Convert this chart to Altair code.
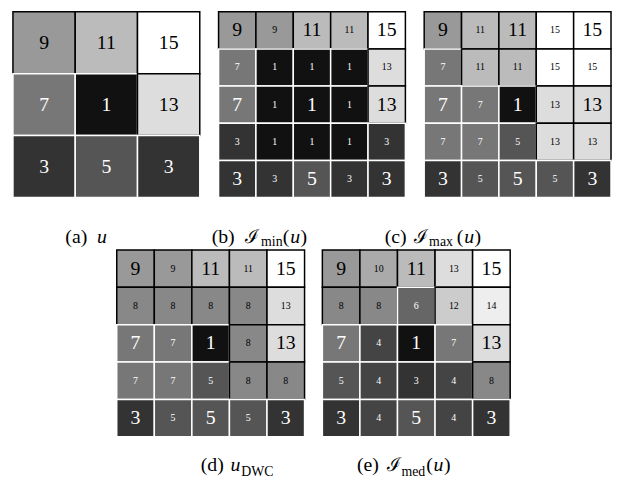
import altair as alt
import pandas as pd

# ---- data ----
u_vals = [[9, 11, 15],
          [7, 1, 13],
          [3, 5, 3]]
imin_vals = [[9, 9, 11, 11, 15],
             [7, 1, 1, 1, 13],
             [7, 1, 1, 1, 13],
             [3, 1, 1, 1, 3],
             [3, 3, 5, 3, 3]]
imax_vals = [[9, 11, 11, 15, 15],
             [7, 11, 11, 15, 15],
             [7, 7, 1, 13, 13],
             [7, 7, 5, 13, 13],
             [3, 5, 5, 5, 3]]
udwc_vals = [[9, 9, 11, 11, 15],
             [8, 8, 8, 8, 13],
             [7, 7, 1, 8, 13],
             [7, 7, 5, 8, 8],
             [3, 5, 5, 5, 3]]
imed_vals = [[9, 10, 11, 13, 15],
             [8, 8, 6, 12, 14],
             [7, 4, 1, 7, 13],
             [5, 4, 3, 4, 8],
             [3, 4, 5, 4, 3]]

label_tags = ["(a)", "(b)", "(c)", "(d)", "(e)"]
label_subs = ["min", "max", "DWC", "med"]

SERIF = "Liberation Serif"
BIG, SMALL = 20, 10


def grid_df(vals, all_big=False):
    recs = []
    for r, row in enumerate(vals):
        for c, v in enumerate(row):
            big = all_big or (r % 2 == 0 and c % 2 == 0)
            recs.append({"row": r, "col": c, "v": v, "fs": BIG if big else SMALL})
    return pd.DataFrame(recs)


def panel(vals, w, h, all_big=False):
    df = grid_df(vals, all_big)
    band = alt.Scale(paddingInner=0, paddingOuter=0)
    base = alt.Chart(df).encode(
        x=alt.X("col:O", axis=None, scale=band),
        y=alt.Y("row:O", axis=None, scale=band),
    )
    rect = base.mark_rect(strokeWidth=1.5).encode(
        fill=alt.Fill("v:Q", legend=None,
                      scale=alt.Scale(domain=[0, 15], range=["#000000", "#ffffff"],
                                      interpolate="rgb")),
        stroke=alt.condition(alt.datum.v >= 8, alt.value("black"), alt.value("white")),
    )
    text = base.mark_text(font=SERIF, baseline="middle", align="center").encode(
        text="v:Q",
        size=alt.Size("fs:Q", scale=None),
        color=alt.condition(alt.datum.v >= 8, alt.value("black"), alt.value("white")),
    )
    return alt.layer(rect, text).properties(width=w, height=h)


dummy = pd.DataFrame({"d": [0]})


def piece(txt, x, y, size=20, italic=False, font=SERIF, align="left"):
    kw = dict(text=txt, align=align, baseline="alphabetic", fontSize=size,
              font=font, color="black")
    if italic:
        kw["fontStyle"] = "italic"
    return alt.Chart(dummy).mark_text(**kw).encode(x=alt.value(x), y=alt.value(y))


def paren_u(x0, y):
    return [piece("(", x0, y), piece("u", x0 + 7.5, y, italic=True), piece(")", x0 + 18, y)]


def script_label(tag, sub, x_tag, x_I, x_sub, x_par, y, ysub):
    return [piece(tag, x_tag, y),
            piece("\u2110", x_I, y, font="DejaVu Serif", size=19),
            piece(sub, x_sub, ysub, size=14)] + paren_u(x_par, y)


W, H = 189, 188

# top row
row1 = alt.hconcat(panel(u_vals, W, H, all_big=True), panel(imin_vals, W, H),
                   panel(imax_vals, W, H), spacing=19, bounds="flush")

y1, y1s = 45, 48
lab1_layers = [piece(label_tags[0], 53, y1), piece("u", 85, y1, italic=True)]
lab1_layers += script_label(label_tags[1], label_subs[0], 201, 235, 251, 273, y1, y1s)
lab1_layers += script_label(label_tags[2], label_subs[1], 376, 406, 421, 449, y1, y1s)
lab1 = alt.layer(*lab1_layers).properties(width=605, height=51)

spacer = alt.Chart(dummy).mark_point(opacity=0, size=1).encode(
    x=alt.value(40), y=alt.value(5)).properties(width=87, height=10)
row2 = alt.hconcat(spacer, panel(udwc_vals, 190, 189), panel(imed_vals, 190, 189),
                   spacing=18, bounds="flush")

y2, y2s = 34, 39
lab2_layers = [piece(label_tags[3], 190, y2), piece("u", 220, y2, italic=True),
               piece(label_subs[2], 231, y2s, size=14)]
lab2_layers += script_label(label_tags[4], label_subs[3], 348, 378, 393, 418, y2, y2s)
lab2 = alt.layer(*lab2_layers).properties(width=605, height=44)

chart = alt.vconcat(row1, lab1, row2, lab2, spacing=0).properties(
    padding={"left": 4, "top": 0, "right": 0, "bottom": 0},
    background="white",
).configure_view(stroke=None).configure_text(font=SERIF)

chart.save("out.html", embed_options={"renderer": "svg", "actions": False})
